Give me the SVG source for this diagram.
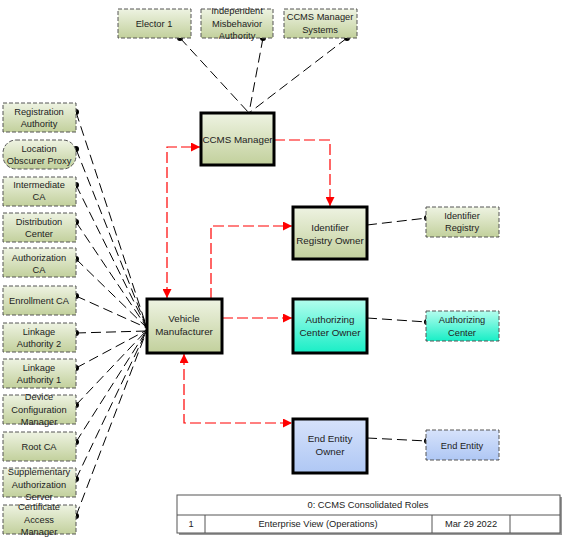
<svg xmlns="http://www.w3.org/2000/svg" width="563" height="545" viewBox="0 0 563 545">
<defs>
<linearGradient id="gG" x1="0" y1="0" x2="0" y2="1"><stop offset="0" stop-color="#eef3e2"/><stop offset="1" stop-color="#c2d09c"/></linearGradient>
<linearGradient id="gC" x1="0" y1="0" x2="0" y2="1"><stop offset="0" stop-color="#b4fdee"/><stop offset="1" stop-color="#18eec6"/></linearGradient>
<linearGradient id="gB" x1="0" y1="0" x2="0" y2="1"><stop offset="0" stop-color="#d6e2fb"/><stop offset="1" stop-color="#afc7f4"/></linearGradient>
<marker id="ar" viewBox="0 0 10 10" refX="10" refY="5" markerWidth="9" markerHeight="9" markerUnits="userSpaceOnUse" orient="auto-start-reverse"><path d="M0,0 L10,5 L0,10 z" fill="#ff0000"/></marker>
</defs>
<style>
text{font-family:"Liberation Sans",Arial,sans-serif;font-size:9.3px;fill:#222;text-anchor:middle}
.big{font-size:9.8px}
.sm{fill:url(#gG);stroke:#555;stroke-width:1;stroke-dasharray:4 2}
.mn{stroke:#000;stroke-width:3}
.bl{fill:none;stroke:#000;stroke-width:1;stroke-dasharray:10 5}
.rd{fill:none;stroke:#ff0000;stroke-width:1.2;stroke-dasharray:11 4}
.dot{fill:#000}
.tb{fill:#fff;stroke:#555;stroke-width:1}
</style>
<rect width="563" height="545" fill="#fff"/>
<g id="connectors">
<line class="bl" x1="180" y1="38" x2="249" y2="113"/>
<line class="bl" x1="263" y1="38" x2="249" y2="113"/>
<line class="bl" x1="347" y1="38" x2="249" y2="113"/>
<circle class="dot" cx="180" cy="38" r="3"/><circle class="dot" cx="263" cy="38" r="3"/><circle class="dot" cx="347" cy="38" r="3"/>
<g>
<line class="bl" x1="76" y1="112" x2="147" y2="328"/>
<line class="bl" x1="76" y1="149" x2="147" y2="328"/>
<line class="bl" x1="76" y1="185" x2="147" y2="328"/>
<line class="bl" x1="76" y1="222" x2="147" y2="328"/>
<line class="bl" x1="76" y1="259" x2="147" y2="328"/>
<line class="bl" x1="76" y1="296" x2="147" y2="328"/>
<line class="bl" x1="76" y1="333" x2="147" y2="331"/>
<line class="bl" x1="76" y1="368" x2="147" y2="330"/>
<line class="bl" x1="76" y1="405" x2="147" y2="330"/>
<line class="bl" x1="76" y1="442" x2="147" y2="330"/>
<line class="bl" x1="76" y1="479" x2="147" y2="330"/>
<line class="bl" x1="76" y1="516" x2="147" y2="330"/>
<circle class="dot" cx="76" cy="112" r="3"/><circle class="dot" cx="76" cy="149" r="3"/><circle class="dot" cx="76" cy="185" r="3"/><circle class="dot" cx="76" cy="222" r="3"/><circle class="dot" cx="76" cy="259" r="3"/><circle class="dot" cx="76" cy="296" r="3"/><circle class="dot" cx="76" cy="333" r="3"/><circle class="dot" cx="76" cy="368" r="3"/><circle class="dot" cx="76" cy="405" r="3"/><circle class="dot" cx="76" cy="442" r="3"/><circle class="dot" cx="76" cy="479" r="3"/><circle class="dot" cx="76" cy="516" r="3"/>
</g>
<line class="bl" x1="367" y1="225" x2="427" y2="218"/>
<line class="bl" x1="367" y1="318" x2="427" y2="322"/>
<line class="bl" x1="367" y1="438" x2="427" y2="441"/>
<circle class="dot" cx="427" cy="218" r="3"/><circle class="dot" cx="427" cy="322" r="3"/><circle class="dot" cx="427" cy="441" r="3"/>
<polyline class="rd" points="167,298 167,147 200,147" marker-start="url(#ar)" marker-end="url(#ar)"/>
<polyline class="rd" points="274,140 330,140 330,206" marker-end="url(#ar)"/>
<polyline class="rd" points="211,299 211,226 292,226" marker-end="url(#ar)"/>
<line class="rd" x1="222" y1="318" x2="292" y2="318" marker-end="url(#ar)"/>
<polyline class="rd" points="184,354 184,423 292,423" marker-start="url(#ar)" marker-end="url(#ar)"/>
</g>
<g id="elector1"><rect class="sm" x="118" y="9" width="73" height="29"/><text x="154" y="27">Elector 1</text></g>
<g id="ima"><rect class="sm" x="201" y="9" width="72" height="29"/><text x="237" y="14">Independent</text><text x="237" y="27">Misbehavior</text><text x="237" y="39">Authority</text></g>
<g id="cms"><rect class="sm" x="284" y="9" width="73" height="29"/><text x="320" y="20">CCMS Manager</text><text x="320" y="33">Systems</text></g>
<g id="ra"><rect class="sm" x="3" y="103" width="73" height="29"/><text x="39" y="115">Registration</text><text x="39" y="127">Authority</text></g>
<g id="lop"><rect class="sm" x="3" y="140" width="73" height="29" rx="13"/><text x="39" y="152">Location</text><text x="39" y="164">Obscurer Proxy</text></g>
<g id="ica"><rect class="sm" x="3" y="177" width="73" height="29"/><text x="39" y="188">Intermediate</text><text x="39" y="200">CA</text></g>
<g id="dc"><rect class="sm" x="3" y="213" width="73" height="29"/><text x="39" y="225">Distribution</text><text x="39" y="237">Center</text></g>
<g id="aca"><rect class="sm" x="3" y="248" width="73" height="29"/><text x="39" y="261">Authorization</text><text x="39" y="273">CA</text></g>
<g id="eca"><rect class="sm" x="3" y="286" width="73" height="29"/><text x="39" y="304">Enrollment CA</text></g>
<g id="la2"><rect class="sm" x="3" y="323" width="73" height="29"/><text x="39" y="335">Linkage</text><text x="39" y="347">Authority 2</text></g>
<g id="la1"><rect class="sm" x="3" y="359" width="73" height="29"/><text x="39" y="371">Linkage</text><text x="39" y="383">Authority 1</text></g>
<g id="dcm"><rect class="sm" x="3" y="395" width="73" height="29"/><text x="39" y="400">Device</text><text x="39" y="413">Configuration</text><text x="39" y="425">Manager</text></g>
<g id="root"><rect class="sm" x="3" y="432" width="73" height="29"/><text x="39" y="450">Root CA</text></g>
<g id="sas"><rect class="sm" x="3" y="468" width="73" height="29"/><text x="39" y="475">Supplementary</text><text x="39" y="488">Authorization</text><text x="39" y="500">Server</text></g>
<g id="cam"><rect class="sm" x="3" y="505" width="73" height="29"/><text x="39" y="510">Certificate</text><text x="39" y="523">Access</text><text x="39" y="535">Manager</text></g>
<g id="ccmsmgr"><rect class="mn" x="201" y="113" width="73" height="52" fill="url(#gG)"/><text class="big" x="237.5" y="143">CCMS Manager</text></g>
<g id="iro"><rect class="mn" x="293" y="207" width="74" height="52" fill="url(#gG)"/><text class="big" x="330" y="231">Identifier</text><text class="big" x="330" y="244">Registry Owner</text></g>
<g id="vm"><rect class="mn" x="147" y="299" width="75" height="54" fill="url(#gG)"/><text class="big" x="184" y="322">Vehicle</text><text class="big" x="184" y="335">Manufacturer</text></g>
<g id="aco"><rect class="mn" x="293" y="299" width="74" height="54" fill="url(#gC)"/><text class="big" x="330" y="323">Authorizing</text><text class="big" x="330" y="336">Center Owner</text></g>
<g id="eeo"><rect class="mn" x="293" y="419" width="74" height="54" fill="url(#gB)"/><text class="big" x="330" y="442">End Entity</text><text class="big" x="330" y="455">Owner</text></g>
<g id="ir"><rect class="sm" x="426" y="207" width="73" height="30"/><text x="462" y="219">Identifier</text><text x="462" y="231">Registry</text></g>
<g id="ac"><rect class="sm" x="426" y="311" width="73" height="30" style="fill:url(#gC)"/><text x="462" y="323">Authorizing</text><text x="462" y="336">Center</text></g>
<g id="ee"><rect class="sm" x="426" y="430" width="73" height="30" style="fill:url(#gB)"/><text x="462" y="449">End Entity</text></g>
<g id="titleblock">
<rect x="179" y="497" width="383" height="38" fill="#999"/>
<rect class="tb" x="177" y="495" width="383" height="38"/>
<line class="tb" x1="177" y1="515" x2="560" y2="515"/>
<line class="tb" x1="205" y1="515" x2="205" y2="533"/>
<line class="tb" x1="432" y1="515" x2="432" y2="533"/>
<line class="tb" x1="510" y1="515" x2="510" y2="533"/>
<text x="368" y="508">0: CCMS Consolidated Roles</text>
<text x="191" y="527">1</text>
<text x="318" y="527">Enterprise View (Operations)</text>
<text x="471" y="527">Mar 29 2022</text>
</g>
</svg>
